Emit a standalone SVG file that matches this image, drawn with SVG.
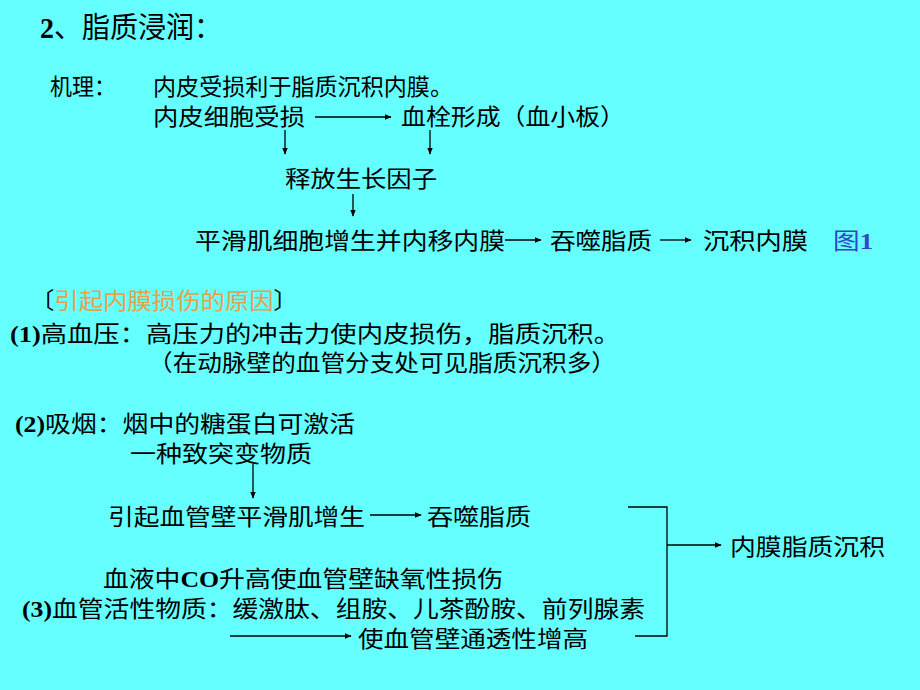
<svg xmlns="http://www.w3.org/2000/svg" width="920" height="690" viewBox="0 0 920 690">
<defs>
<style>
.t{font-family:"Noto Sans CJK SC","Liberation Serif",serif;font-size:23px;fill:#000}
.b{font-family:"Liberation Serif","Noto Sans CJK SC",serif;font-weight:bold}
.ln{stroke:#000;stroke-width:1.3;fill:none}
.ar{stroke:#000;stroke-width:1.3;fill:none;marker-end:url(#ah)}
</style>
<marker id="ah" viewBox="0 0 10 10" refX="9" refY="5" markerWidth="7" markerHeight="7" markerUnits="userSpaceOnUse" orient="auto">
<path d="M0,1 L10,5 L0,9 z" fill="#000"/>
</marker>
</defs>
<rect width="920" height="690" fill="#66FFFF"/>

<g id="title"><text class="t" x="40" y="38" style="font-size:29px" textLength="182" lengthAdjust="spacingAndGlyphs"><tspan class="b">2</tspan>、脂质浸润：</text></g>

<g id="mech-label"><text class="t" x="50" y="95" textLength="66" lengthAdjust="spacingAndGlyphs">机理：</text></g>
<g id="mech-1"><text class="t" x="153" y="95" textLength="300" lengthAdjust="spacingAndGlyphs">内皮受损利于脂质沉积内膜。</text></g>
<g id="endo-damage"><text class="t" x="153" y="125" textLength="152" lengthAdjust="spacingAndGlyphs">内皮细胞受损</text></g>
<g id="thrombus"><text class="t" x="401" y="125" textLength="224" lengthAdjust="spacingAndGlyphs">血栓形成（血小板）</text></g>
<g id="growth-factor"><text class="t" x="285" y="187" textLength="152" lengthAdjust="spacingAndGlyphs">释放生长因子</text></g>
<g id="smc"><text class="t" x="195" y="249" textLength="310" lengthAdjust="spacingAndGlyphs">平滑肌细胞增生并内移内膜</text></g>
<g id="phago-1"><text class="t" x="550" y="249" textLength="102" lengthAdjust="spacingAndGlyphs">吞噬脂质</text></g>
<g id="deposit-1"><text class="t" x="703" y="249" textLength="105" lengthAdjust="spacingAndGlyphs">沉积内膜</text></g>
<g id="fig1"><text class="t" x="833" y="249" textLength="40" lengthAdjust="spacingAndGlyphs" style="fill:#3344CC">图<tspan class="b">1</tspan></text></g>

<g id="causes-head"><text class="t" x="30" y="309" textLength="268" lengthAdjust="spacingAndGlyphs">〔<tspan style="fill:#E8A04C">引起内膜损伤的原因</tspan>〕</text></g>
<g id="cause-1"><text class="t" x="10" y="342" textLength="610" lengthAdjust="spacingAndGlyphs"><tspan class="b">(1)</tspan>高血压：高压力的冲击力使内皮损伤，脂质沉积。</text></g>
<g id="cause-1b"><text class="t" x="148" y="371" textLength="468" lengthAdjust="spacingAndGlyphs">（在动脉壁的血管分支处可见脂质沉积多）</text></g>
<g id="cause-2"><text class="t" x="15" y="432" textLength="340" lengthAdjust="spacingAndGlyphs"><tspan class="b">(2)</tspan>吸烟：烟中的糖蛋白可激活</text></g>
<g id="mutagen"><text class="t" x="130" y="462" textLength="182" lengthAdjust="spacingAndGlyphs">一种致突变物质</text></g>
<g id="smc-2"><text class="t" x="108" y="525" textLength="257" lengthAdjust="spacingAndGlyphs">引起血管壁平滑肌增生</text></g>
<g id="phago-2"><text class="t" x="427" y="525" textLength="104" lengthAdjust="spacingAndGlyphs">吞噬脂质</text></g>
<g id="co"><text class="t" x="103" y="587" textLength="400" lengthAdjust="spacingAndGlyphs">血液中<tspan class="b">CO</tspan>升高使血管壁缺氧性损伤</text></g>
<g id="cause-3"><text class="t" x="22" y="617" textLength="623" lengthAdjust="spacingAndGlyphs"><tspan class="b">(3)</tspan>血管活性物质：缓激肽、组胺、儿茶酚胺、前列腺素</text></g>
<g id="permeability"><text class="t" x="358" y="647" textLength="230" lengthAdjust="spacingAndGlyphs">使血管壁通透性增高</text></g>
<g id="result"><text class="t" x="730" y="555" textLength="155" lengthAdjust="spacingAndGlyphs">内膜脂质沉积</text></g>

<g id="connectors">
<line class="ar" x1="315" y1="117" x2="391" y2="117"/>
<line class="ar" x1="285" y1="130" x2="285" y2="154"/>
<line class="ar" x1="430" y1="130" x2="430" y2="154"/>
<line class="ar" x1="353" y1="194" x2="353" y2="216"/>
<line class="ar" x1="505" y1="240" x2="541" y2="240"/>
<line class="ar" x1="660" y1="240" x2="691" y2="240"/>
<line class="ar" x1="253" y1="464" x2="253" y2="498"/>
<line class="ar" x1="370" y1="515" x2="421" y2="515"/>
<line class="ar" x1="230" y1="636" x2="351" y2="636"/>
<polyline class="ln" points="628,507 667,507 667,636 635,636"/>
<line class="ar" x1="667" y1="545" x2="721" y2="545"/>
</g>
</svg>
